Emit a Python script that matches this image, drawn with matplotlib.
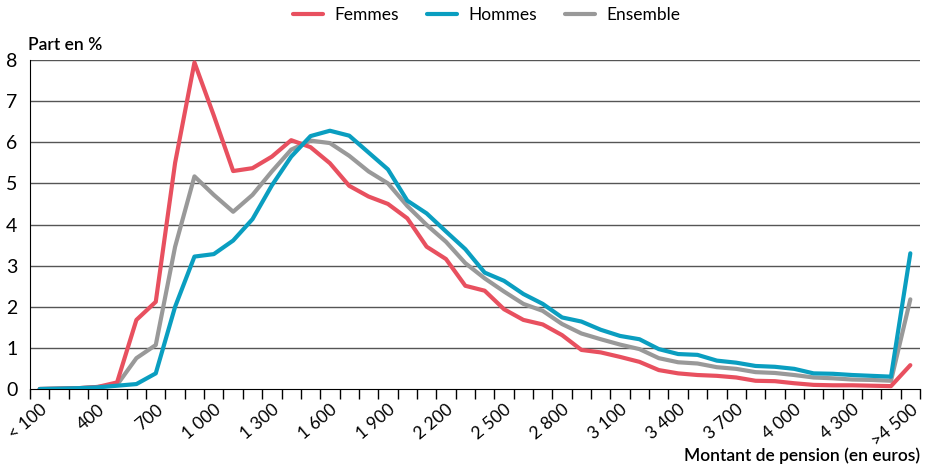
import matplotlib
matplotlib.use("Agg")
import matplotlib.pyplot as plt
import numpy as np

plt.rcParams['font.family'] = ['Lato', 'DejaVu Sans']

# categories: "<100", then 200 .. 4500 by 100, then ">4 500"
tick_labels = ["< 100", "400", "700", "1 000", "1 300", "1 600", "1 900", "2 200",
               "2 500", "2 800", "3 100", "3 400", "3 700", "4 000", "4 300", ">4 500"]
tick_pos = [0, 3, 6, 9, 12, 15, 18, 21, 24, 27, 30, 33, 36, 39, 42, 45]

femmes = [0.0, 0.01, 0.02, 0.05, 0.16, 1.68, 2.12, 5.5, 7.94, 6.65,
          5.3, 5.37, 5.65, 6.05, 5.88, 5.49, 4.94, 4.68, 4.5, 4.15,
          3.46, 3.16, 2.51, 2.39, 1.94, 1.68, 1.57, 1.31, 0.95, 0.89,
          0.78, 0.66, 0.46, 0.38, 0.34, 0.32, 0.28, 0.2, 0.19, 0.14,
          0.1, 0.09, 0.09, 0.08, 0.07, 0.58]
hommes = [0.0, 0.01, 0.02, 0.04, 0.08, 0.12, 0.38, 2.0, 3.22, 3.28,
          3.61, 4.13, 4.95, 5.65, 6.15, 6.28, 6.16, 5.75, 5.34, 4.58,
          4.27, 3.83, 3.4, 2.83, 2.63, 2.31, 2.07, 1.74, 1.64, 1.44,
          1.29, 1.21, 0.97, 0.85, 0.83, 0.69, 0.64, 0.56, 0.54, 0.49,
          0.38, 0.37, 0.34, 0.32, 0.3, 3.3]
ensemble = [0.0, 0.01, 0.02, 0.05, 0.1, 0.75, 1.07, 3.46, 5.17, 4.72,
            4.31, 4.72, 5.29, 5.82, 6.04, 5.98, 5.67, 5.29, 5.0, 4.45,
            3.99, 3.58, 3.06, 2.69, 2.37, 2.07, 1.9, 1.58, 1.35, 1.21,
            1.08, 0.97, 0.75, 0.65, 0.62, 0.53, 0.49, 0.41, 0.39, 0.34,
            0.28, 0.26, 0.23, 0.22, 0.2, 2.18]

c_f, c_h, c_e = '#e8505f', '#0a9ec0', '#999999'

fig = plt.figure(figsize=(9.29, 4.67), dpi=100)
ax = fig.add_axes([30/929, 1-389/467, 890/929, 329/467])

x = np.arange(len(femmes))
lw = 3.0
ax.plot(x, ensemble, color=c_e, lw=lw, label='Ensemble', solid_capstyle='round', zorder=3)
ax.plot(x, femmes, color=c_f, lw=lw, label='Femmes', solid_capstyle='round', zorder=4)
ax.plot(x, hommes, color=c_h, lw=lw, label='Hommes', solid_capstyle='round', zorder=5)

ax.set_xlim(-0.5, len(femmes) - 0.5)
ax.set_ylim(0, 8)
for v in range(1, 9):
    ax.axhline(v, color='#555555', lw=1, zorder=1)

for s in ['top', 'right']:
    ax.spines[s].set_visible(False)
ax.spines['left'].set_color('black')
ax.spines['bottom'].set_color('black')

ax.set_yticks(range(0, 9))
ax.tick_params(axis='y', length=0, pad=9, labelsize=14)
ax.set_xticks(tick_pos)
ax.set_xticklabels(tick_labels, rotation=40, ha='right', rotation_mode='anchor', fontsize=12.5)
ax.tick_params(axis='x', which='major', length=0, pad=9)
ax.set_xticks(np.arange(-0.5, len(femmes)), minor=True)
ax.tick_params(axis='x', which='minor', length=7, width=1, color='black', direction='out')

fig.text(28/929, 1-45/467, 'Part en %', fontsize=12.5, fontweight='semibold', va='center', ha='left')
fig.text(920/929, 1-456/467, 'Montant de pension (en euros)', fontsize=12.5,
         fontweight='semibold', va='center', ha='right')

h, l = ax.get_legend_handles_labels()
order = [1, 2, 0]
leg = fig.legend([h[i] for i in order], [l[i] for i in order], loc='center',
                 bbox_to_anchor=(487/929, 1-15/467), ncol=3, frameon=False,
                 fontsize=12.5, handlelength=1.7, columnspacing=1.6, handletextpad=0.7)

fig.savefig('out.png', dpi=100)
